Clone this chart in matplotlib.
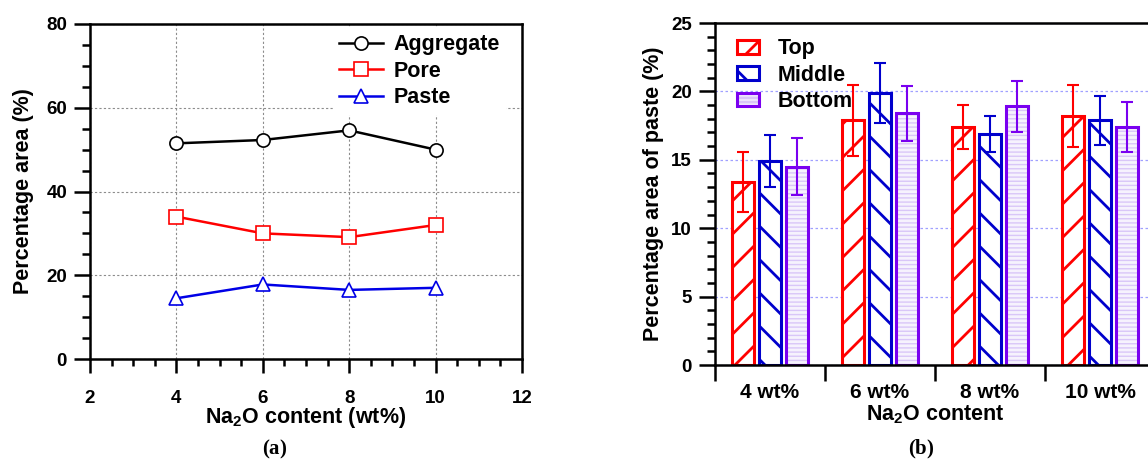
import numpy as np
import matplotlib
matplotlib.use('Agg')
import matplotlib.pyplot as plt
from matplotlib.ticker import MultipleLocator, FixedLocator, NullFormatter, FixedFormatter
from matplotlib.legend_handler import HandlerTuple

# ---------------- data ----------------
# panel (a)
na2o = [4, 6, 8, 10]
aggregate = [51.5, 52.3, 54.6, 50.0]
pore = [34.0, 30.0, 29.1, 32.0]
paste = [14.5, 17.8, 16.5, 17.0]

# panel (b)
groups = ['4 wt%', '6 wt%', '8 wt%', '10 wt%']
top = [13.4, 17.9, 17.4, 18.2]
top_err = [2.2, 2.6, 1.6, 2.3]
middle = [14.9, 19.9, 16.9, 17.9]
middle_err = [1.9, 2.2, 1.3, 1.8]
bottom = [14.5, 18.4, 18.9, 17.4]
bottom_err = [2.1, 2.0, 1.85, 1.8]

# ---------------- style ----------------
plt.rcParams['font.family'] = ['Liberation Sans', 'DejaVu Sans']
plt.rcParams['font.weight'] = 'bold'
plt.rcParams['axes.labelweight'] = 'bold'
plt.rcParams['mathtext.fontset'] = 'custom'
plt.rcParams['mathtext.rm'] = 'Liberation Serif'
plt.rcParams['mathtext.bf'] = 'Liberation Serif:bold'
plt.rcParams['mathtext.sf'] = 'Liberation Sans:bold'
plt.rcParams['hatch.linewidth'] = 2.0

RED = '#FF0000'
BLUE_A = '#0000E6'
BLUE_B = '#0000CC'
PURPLE = '#7A00F0'
PURPLE_L = '#D9C6F8'
PURPLE_F = '#F6F2FD'

W, H = 1148, 462
fig = plt.figure(figsize=(W / 100, H / 100), dpi=100)


def px(l, t, r, b):
    return [l / W, 1 - b / H, (r - l) / W, (b - t) / H]


# ---------------- (a) line chart ----------------
ax1 = fig.add_axes(px(90, 24, 522, 359))
ax1.plot(na2o, aggregate, '-o', color='black', lw=1.8, ms=9.5, mfc='white', mew=1.2, label='Aggregate', zorder=3)
ax1.plot(na2o, pore, '-s', color=RED, lw=1.8, ms=9.5, mfc='white', mew=1.2, label='Pore', zorder=3)
ax1.plot(na2o, paste, '-^', color=BLUE_A, lw=1.8, ms=10, mfc='white', mew=1.2, label='Paste', zorder=3)

ax1.set_xlim(2, 12)
ax1.set_ylim(0, 80)
ax1.xaxis.set_major_locator(MultipleLocator(2))
ax1.xaxis.set_minor_locator(MultipleLocator(0.5))
ax1.yaxis.set_major_locator(MultipleLocator(20))
ax1.yaxis.set_minor_locator(MultipleLocator(5))
ax1.tick_params(axis='x', which='major', direction='out', length=10, width=1.8, labelsize=13.5, pad=12)
ax1.tick_params(axis='x', which='minor', direction='out', length=5, width=1.8)
ax1.tick_params(axis='y', which='major', direction='out', length=11.5, width=1.8, labelsize=13.5, pad=5)
ax1.tick_params(axis='y', which='minor', direction='out', length=6, width=1.8)
ax1.grid(True, which='major', color='#8c8c8c', linestyle=(0, (2, 2)), lw=0.8)
ax1.set_axisbelow(True)
for s in ax1.spines.values():
    s.set_linewidth(1.8)
ax1.set_xlabel(r'Na$_\mathsf{2}$O content (wt%)', fontsize=15.5, labelpad=-1)
ax1.set_ylabel('Percentage area (%)', fontsize=15.5, labelpad=9)
ax1.legend(loc='upper left', bbox_to_anchor=(333 / W, 1 - 28 / H), bbox_transform=fig.transFigure,
           fontsize=15.5, frameon=True, edgecolor='none', facecolor='white', framealpha=1,
           handlelength=2.0, handletextpad=0.5, labelspacing=0.25, borderpad=0.3,
           borderaxespad=0, fancybox=False)

# ---------------- (b) bar chart ----------------
ax2 = fig.add_axes(px(715, 23, 1155, 365))
x = np.arange(len(groups))
bw = 0.205
off = 0.245

b_top = ax2.bar(x - off, top, bw, facecolor='white', edgecolor=RED, hatch='/', lw=2.2, zorder=2)
b_mid = ax2.bar(x, middle, bw, facecolor='white', edgecolor=BLUE_B, hatch='\\', lw=2.2, zorder=2)
with plt.rc_context({'hatch.linewidth': 1.0}):
    b_bot_h = ax2.bar(x + off, bottom, bw, facecolor=PURPLE_F, edgecolor=PURPLE_L, hatch='----', lw=0, zorder=2)
for p in b_bot_h:
    if hasattr(p, 'set_hatch_linewidth'):
        p.set_hatch_linewidth(1.0)
b_bot = ax2.bar(x + off, bottom, bw, facecolor='none', edgecolor=PURPLE, lw=2.2, zorder=2)

ax2.errorbar(x - off, top, yerr=top_err, fmt='none', ecolor=RED, elinewidth=1.5, capsize=4.5, capthick=1.5, zorder=3)
ax2.errorbar(x, middle, yerr=middle_err, fmt='none', ecolor=BLUE_B, elinewidth=1.5, capsize=4.5, capthick=1.5, zorder=3)
ax2.errorbar(x + off, bottom, yerr=bottom_err, fmt='none', ecolor=PURPLE, elinewidth=1.5, capsize=4.5, capthick=1.5, zorder=3)

ax2.set_xlim(-0.5, len(groups) - 0.5)
ax2.set_ylim(0, 25)
ax2.yaxis.set_major_locator(MultipleLocator(5))
ax2.yaxis.set_minor_locator(MultipleLocator(1))
ax2.xaxis.set_major_locator(FixedLocator(np.arange(-0.5, len(groups), 1.0)))
ax2.xaxis.set_major_formatter(NullFormatter())
ax2.xaxis.set_minor_locator(FixedLocator(x))
ax2.xaxis.set_minor_formatter(FixedFormatter(groups))
ax2.tick_params(axis='x', which='minor', length=0, labelsize=15, pad=13)
ax2.tick_params(axis='x', which='major', direction='out', length=11.5, width=1.8)
ax2.tick_params(axis='y', which='major', direction='out', length=11.5, width=1.8, labelsize=13.5, pad=5)
ax2.tick_params(axis='y', which='minor', direction='out', length=6, width=1.8)
ax2.yaxis.grid(True, which='major', color='#a0a0ff', linestyle=(0, (2, 2)), lw=0.9)
ax2.set_axisbelow(True)
for s in ax2.spines.values():
    s.set_linewidth(1.8)
ax2.set_xlabel(r'Na$_\mathsf{2}$O content', fontsize=15.5, labelpad=1)
ax2.set_ylabel('Percentage area of paste (%)', fontsize=15.5, labelpad=5)
ax2.legend([b_top, b_mid, (b_bot_h, b_bot)], ['Top', 'Middle', 'Bottom'],
           handler_map={tuple: HandlerTuple(ndivide=1, pad=0)},
           loc='upper left', bbox_to_anchor=(731 / W, 1 - 32 / H), bbox_transform=fig.transFigure,
           fontsize=15.5, frameon=False, handlelength=1.0, handleheight=0.6,
           handletextpad=0.85, labelspacing=0.25, borderpad=0.3, borderaxespad=0)

# ---------------- captions ----------------
fig.text(275 / W, 1 - 449 / H, r'$\mathrm{(}\mathbf{a}\mathrm{)}$', ha='center', va='center', fontsize=15, fontweight='normal')
fig.text(921 / W, 1 - 449 / H, r'$\mathrm{(}\mathbf{b}\mathrm{)}$', ha='center', va='center', fontsize=15, fontweight='normal')

fig.savefig('out.png', dpi=100)
